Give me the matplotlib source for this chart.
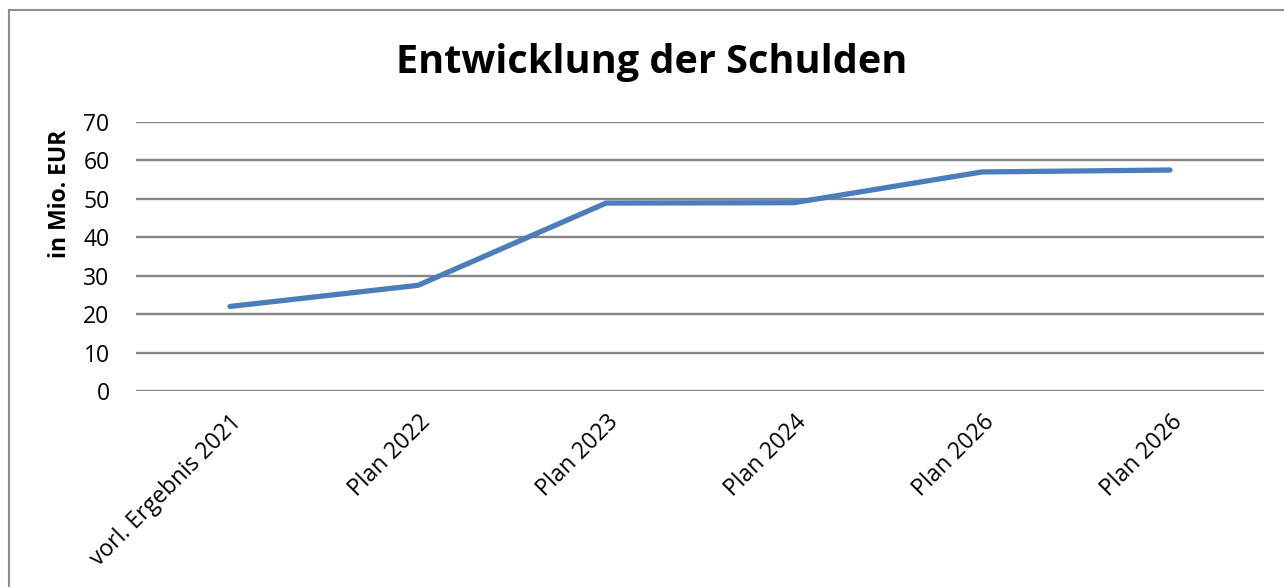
import matplotlib
matplotlib.use("Agg")
import matplotlib.pyplot as plt
from matplotlib.patches import Rectangle

categories = ["vorl. Ergebnis 2021", "Plan 2022", "Plan 2023", "Plan 2024", "Plan 2026", "Plan 2026"]
values = [22.0, 27.5, 48.9, 49.0, 57.0, 57.5]
yticks = [0, 10, 20, 30, 40, 50, 60, 70]

W, H = 1284, 587
fig = plt.figure(figsize=(W / 100, H / 100), dpi=100)
plt.rcParams['font.family'] = ['Open Sans', 'DejaVu Sans']

# chart border (only top and left edges visible in the crop)
fig.patches.append(Rectangle((9 / W, -0.5), 1.2, 1.5 - 10 / H, transform=fig.transFigure,
                             fill=False, edgecolor='#8c8c8c', linewidth=1.5))

ax = fig.add_axes([136 / W, 1 - 391 / H, (1264 - 136) / W, (391 - 122) / H])
x = list(range(len(categories)))
ax.plot(x, values, color='#4A7EBB', linewidth=3.8, solid_capstyle='round', solid_joinstyle='round', zorder=3)
ax.set_xlim(-0.5, len(categories) - 0.5)
ax.set_ylim(0, 70)
ax.set_yticks(yticks)
ax.set_yticklabels([str(v) for v in yticks], fontsize=16.5)
ax.yaxis.grid(True, color='#858585', linewidth=1.7)
ax.set_axisbelow(True)
for s in ax.spines.values():
    s.set_visible(False)
ax.tick_params(axis='both', length=0)
ax.tick_params(axis='y', pad=19)
ax.set_xticks(x)
ax.set_xticklabels(categories, fontsize=16.5, rotation=45, ha='right', va='top', rotation_mode='anchor')
ax.tick_params(axis='x', pad=14)
for lbl in ax.get_xticklabels():
    lbl.set_x(lbl.get_position()[0])
fig.text(60 / W, 1 - 194 / H, "in Mio. EUR", fontsize=16.5, fontweight='bold',
         rotation=90, ha='center', va='center')
fig.text(652 / W, 1 - 62 / H, "Entwicklung der Schulden", fontsize=28.5, fontweight='bold',
         ha='center', va='center')

fig.savefig("out.png", dpi=100, facecolor='white')
